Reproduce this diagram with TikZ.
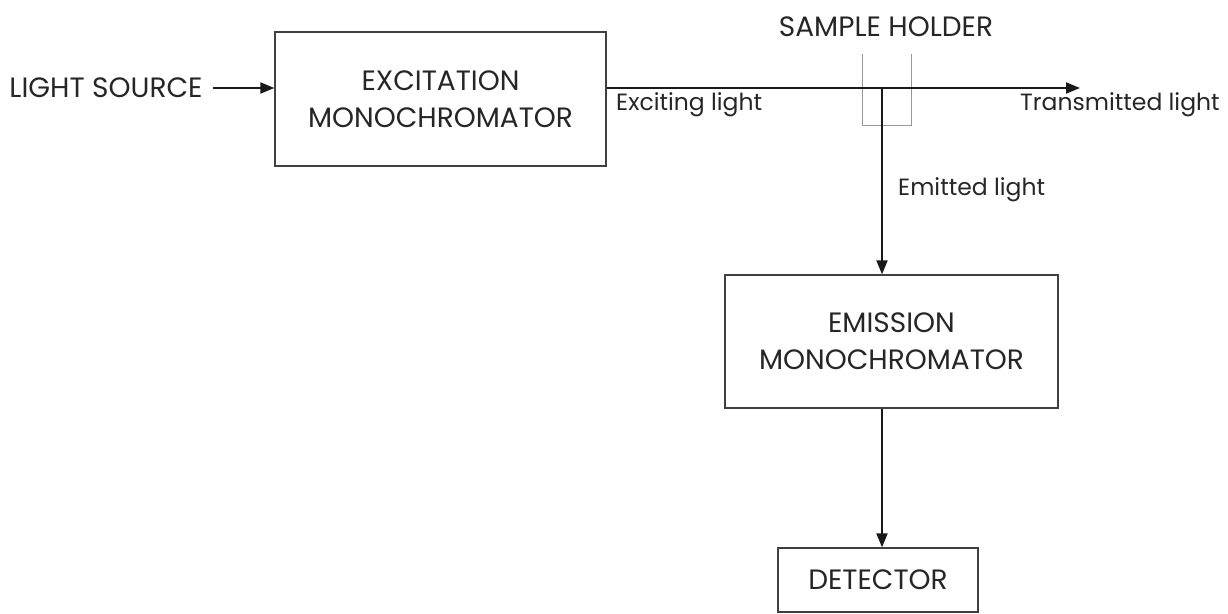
\documentclass[tikz,border=0pt]{standalone}
\usepackage{fontspec}
\setmainfont{Poppins}
\usetikzlibrary{arrows.meta,calc}
\begin{document}
\begin{tikzpicture}[x=1pt,y=1pt,
  box/.style={draw=black!75,line width=1.3pt,inner sep=0pt,align=center},
  bigtxt/.style={font=\fontsize{28}{37}\selectfont,text=black!85},
  smalltxt/.style={font=\fontsize{23.5}{27}\selectfont,text=black!85,inner sep=0pt},
  conn/.style={line width=2pt,draw=black!90,-{Triangle[length=14pt,width=11pt]}},
  holder/.style={draw=black!40,line width=1pt}]
\useasboundingbox (0,0) rectangle (1228,-613);
% boxes
\node[box,bigtxt,minimum width=331pt,minimum height=134pt] (exc) at (440.5,-99) {EXCITATION\\MONOCHROMATOR};
\node[box,bigtxt,minimum width=333pt,minimum height=133pt] (emi) at (891.5,-341.5) {EMISSION\\MONOCHROMATOR};
\node[box,bigtxt,minimum width=200pt,minimum height=64pt] (det) at (878,-580) {DETECTOR};
% labels
\node[bigtxt,inner sep=0pt] (src) at (106,-88) {LIGHT SOURCE};
\node[bigtxt,inner sep=0pt] (sh) at (886,-27) {SAMPLE HOLDER};
\node[smalltxt,anchor=west] (exl) at (616,-105) {Exciting light};
\node[smalltxt,anchor=west] (trl) at (1020,-105) {Transmitted light};
\node[smalltxt,anchor=west] (eml) at (898,-190) {Emitted light};
% coordinates
\coordinate (srcend) at (213,-88);
\coordinate (tip) at (1080,-88);
\coordinate (junc) at (882,-88);
% sample holder
\coordinate (hl) at (862,-54);
\coordinate (hr) at (911,-54);
\coordinate (hb) at (862,-125);
\draw[holder] (hl) -- (hb) -- (hb -| hr) -- (hr);
% connectors
\draw[conn] (srcend) -- (exc.west |- srcend);
\draw[conn] (exc.east |- tip) -- (tip);
\draw[conn] (junc) -- (junc |- emi.north);
\draw[conn] (junc |- emi.south) -- (junc |- det.north);
\end{tikzpicture}
\end{document}
